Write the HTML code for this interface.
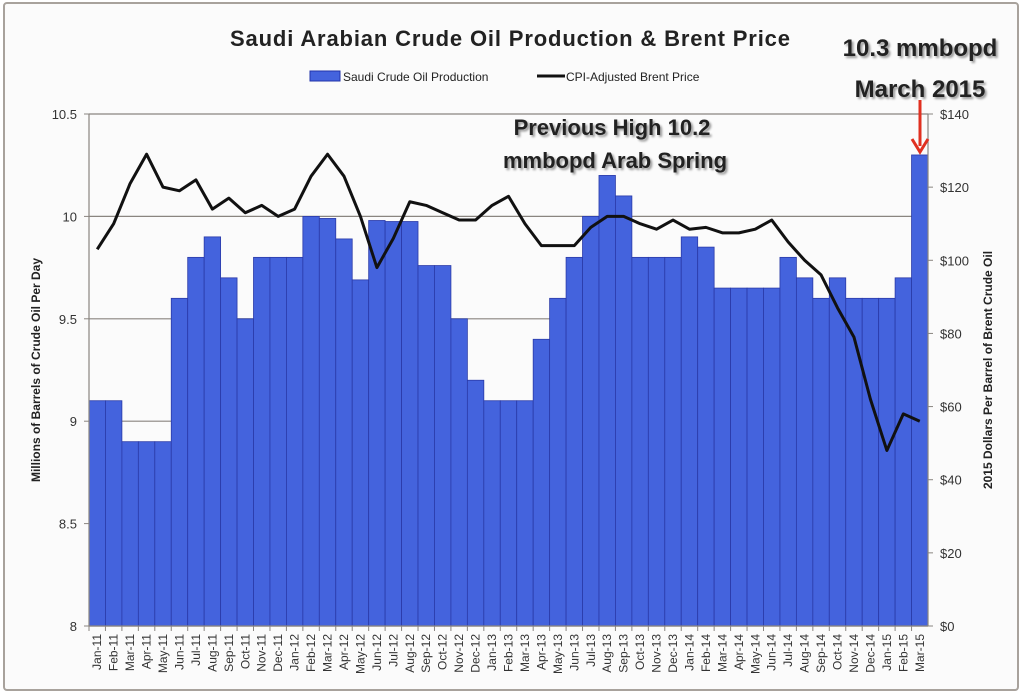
<!DOCTYPE html>
<html><head><meta charset="utf-8"><style>
html,body{margin:0;padding:0;background:#fff;}
svg{display:block;font-family:"Liberation Sans",sans-serif;}
</style></head><body>
<svg id="chart" width="1024" height="697" viewBox="0 0 1024 697">
<rect x="4" y="3" width="1014" height="687" fill="#fbfbfb" stroke="#a8a29c" stroke-width="2" rx="3"/>
<text x="510" y="46" text-anchor="middle" font-size="22" font-weight="bold" fill="#222" textLength="560">Saudi Arabian Crude Oil Production &amp; Brent Price</text>
<g>
<rect x="310" y="71" width="30" height="10" fill="#4463dd" stroke="#2233aa"/>
<text x="343" y="81" font-size="12" fill="#222">Saudi Crude Oil Production</text>
<line x1="537" y1="76" x2="565" y2="76" stroke="#111" stroke-width="3"/>
<text x="566" y="81" font-size="12" fill="#222">CPI-Adjusted Brent Price</text>
</g>
<g id="grid"></g>
<g id="bars"></g>
<g id="line"></g>
<g id="axes"></g>
<text x="612" y="135" text-anchor="middle" font-size="22" font-weight="bold" fill="#222" style="text-shadow:2px 2px 2px #999">Previous High 10.2</text>
<text x="615" y="168" text-anchor="middle" font-size="22" font-weight="bold" fill="#222" style="text-shadow:2px 2px 2px #999">mmbopd Arab Spring</text>
<text x="920" y="56" text-anchor="middle" font-size="24" font-weight="bold" fill="#222" style="text-shadow:2px 2px 2px #999">10.3 mmbopd</text>
<text x="920" y="97" text-anchor="middle" font-size="24" font-weight="bold" fill="#222" style="text-shadow:2px 2px 2px #999">March 2015</text>
<g>
<line x1="920" y1="100" x2="920" y2="146" stroke="#e03020" stroke-width="3"/>
<path d="M912 139 L920 152 L928 139" fill="none" stroke="#e03020" stroke-width="3"/>
</g>
<text transform="translate(40,370) rotate(-90)" text-anchor="middle" font-size="12" font-weight="bold" fill="#222">Millions of Barrels of Crude Oil Per Day</text>
<text transform="translate(992,370) rotate(-90)" text-anchor="middle" font-size="12" font-weight="bold" fill="#222">2015 Dollars Per Barrel of Brent Crude Oil</text>
</svg>
<script>
const months = ["Jan-11","Feb-11","Mar-11","Apr-11","May-11","Jun-11","Jul-11","Aug-11","Sep-11","Oct-11","Nov-11","Dec-11","Jan-12","Feb-12","Mar-12","Apr-12","May-12","Jun-12","Jul-12","Aug-12","Sep-12","Oct-12","Nov-12","Dec-12","Jan-13","Feb-13","Mar-13","Apr-13","May-13","Jun-13","Jul-13","Aug-13","Sep-13","Oct-13","Nov-13","Dec-13","Jan-14","Feb-14","Mar-14","Apr-14","May-14","Jun-14","Jul-14","Aug-14","Sep-14","Oct-14","Nov-14","Dec-14","Jan-15","Feb-15","Mar-15"];
const production = [9.1,9.1,8.9,8.9,8.9,9.6,9.8,9.9,9.7,9.5,9.8,9.8,9.8,10.0,9.99,9.89,9.69,9.98,9.975,9.975,9.76,9.76,9.5,9.2,9.1,9.1,9.1,9.4,9.6,9.8,10.0,10.2,10.1,9.8,9.8,9.8,9.9,9.85,9.65,9.65,9.65,9.65,9.8,9.7,9.6,9.7,9.6,9.6,9.6,9.7,10.3];
const price = [103,110,121,129,120,119,122,114,117,113,115,112,114,123,129,123,112,98,106,116,115,113,111,111,115,117.5,110,104,104,104,109,112,112,110,108.5,111,108.5,109,107.5,107.5,108.5,111,105,100,96,87,79,62,48,58,56];
const leftTicks = [8,8.5,9,9.5,10,10.5];
const leftTickLabels = ["8","8.5","9","9.5","10","10.5"];
const rightTicks = [0,20,40,60,80,100,120,140];
const rightTickLabels = ["$0","$20","$40","$60","$80","$100","$120","$140"];

const X0=89, X1=928, Y0=626, Y1=114;
const bw=(X1-X0)/months.length;
const yL=v=>Y0-(v-8)/(10.5-8)*(Y0-Y1);
const yR=v=>Y0-v/140*(Y0-Y1);
const xC=i=>X0+bw*(i+0.5);
const NS="http://www.w3.org/2000/svg";
function mk(tag,attrs,parent){const e=document.createElementNS(NS,tag);for(const k in attrs)e.setAttribute(k,attrs[k]);document.getElementById(parent).appendChild(e);return e;}

leftTicks.forEach((t,i)=>{
  const g=mk('line',{x1:X0,x2:X1,y1:yL(t),y2:yL(t),stroke:'#8a8580','stroke-width':1.2},'grid');
  
  
  const tk=mk('line',{x1:X0-5,x2:X0,y1:yL(t),y2:yL(t),stroke:'#8a8580'},'axes');
  
  
  const tx=mk('text',{x:X0-12,y:yL(t)+5,'text-anchor':'end','font-size':13,fill:'#333'},'axes');
  tx.textContent=leftTickLabels[i];
  
  
});
rightTicks.forEach((t,i)=>{
  const tk=mk('line',{x1:X1,x2:X1+5,y1:yR(t),y2:yR(t),stroke:'#8a8580'},'axes');
  
  
  const tx=mk('text',{x:X1+12,y:yR(t)+5,'font-size':13,fill:'#333'},'axes');
  tx.textContent=rightTickLabels[i];
  
  
});
production.forEach((v,i)=>{
  const r=mk('rect',{x:X0+bw*i,y:yL(v),width:bw,height:Y0-yL(v),fill:'#4463dd',stroke:'#2a3aa8','stroke-width':0.8},'bars');
  
  
});
const pl=mk('polyline',{points:price.map((v,i)=>xC(i)+','+yR(v)).join(' '),fill:'none',stroke:'#111','stroke-width':3,'stroke-linejoin':'round'},'line');


const ax=mk('line',{x1:X0,x2:X1,y1:Y0,y2:Y0,stroke:'#8a8580','stroke-width':1.2},'axes');


[X0,X1].forEach(x=>{const a=mk('line',{x1:x,x2:x,y1:Y1,y2:Y0,stroke:'#8a8580','stroke-width':1.2},'axes');

});
months.forEach((m,i)=>{
  const tk=mk('line',{x1:X0+bw*i,x2:X0+bw*i,y1:Y0,y2:Y0+5,stroke:'#8a8580'},'axes');
  
  
  const tx=mk('text',{transform:'translate('+(xC(i)+4)+','+(Y0+8)+') rotate(-90)','text-anchor':'end','font-size':12,fill:'#333'},'axes');
  tx.textContent=m;
  
  
});
</script>
</body></html>
